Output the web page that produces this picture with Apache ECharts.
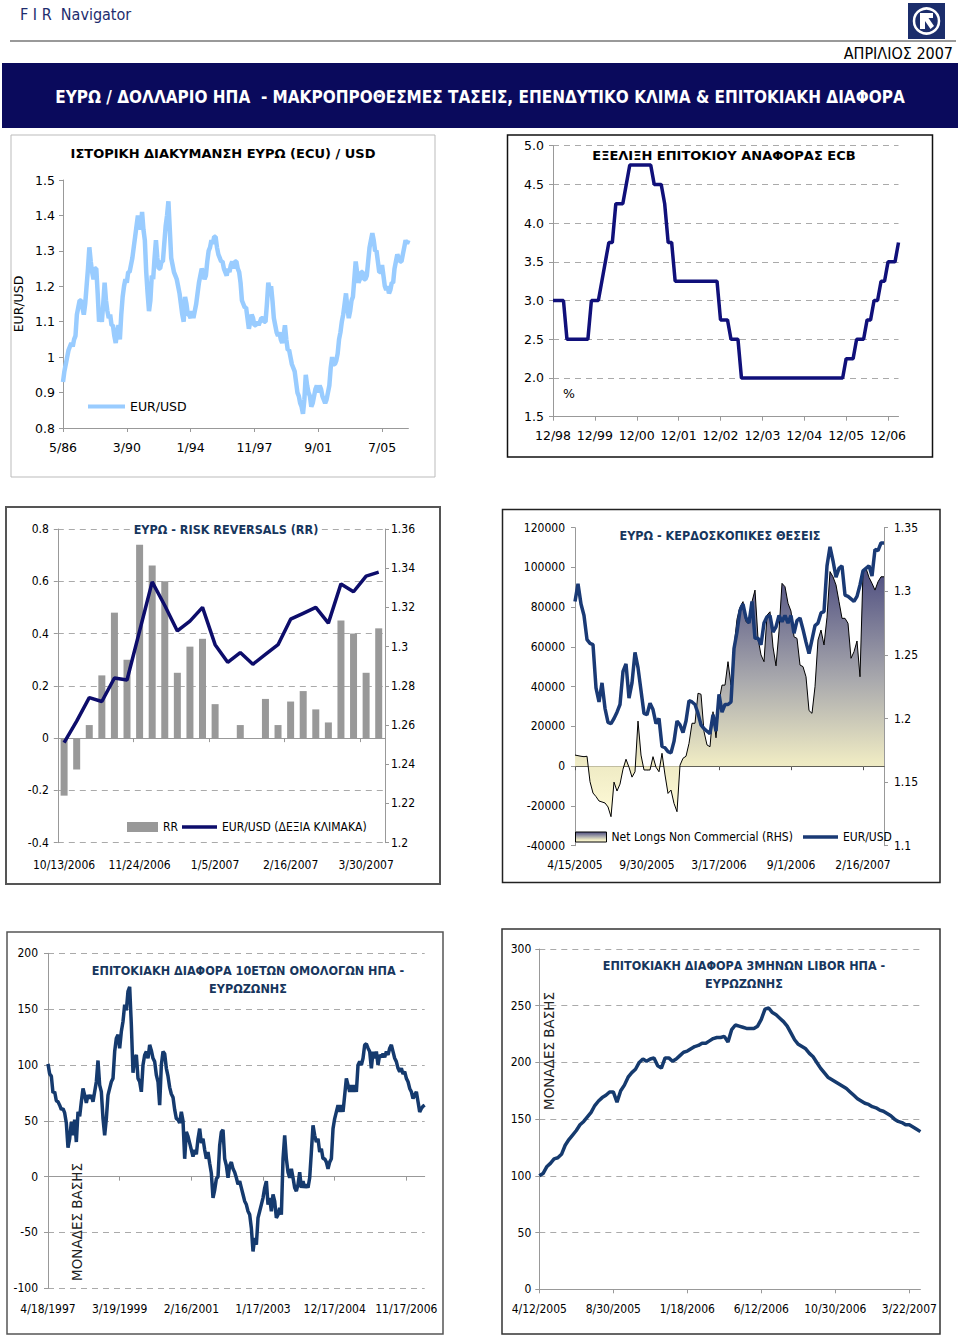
<!DOCTYPE html>
<html><head><meta charset="utf-8">
<script src="https://cdn.jsdelivr.net/npm/echarts@6/dist/echarts.min.js"></script>
<style>html,body{margin:0;padding:0;background:#fff}#c{width:960px;height:1339px}</style>
</head><body><div id="c"></div>
<script>
// ---------- DATA ----------
const histLabels = ['5/86','3/90','1/94','11/97','9/01','7/05'];
const eurUsdHist = [0.93,0.96,0.98,1.00,1.02,1.03,1.04,1.03,1.05,1.06,
1.12,1.14,1.16,1.16,1.14,1.12,1.15,1.20,1.25,1.31,
1.27,1.24,1.22,1.25,1.25,1.18,1.10,1.12,1.10,1.15,
1.21,1.16,1.13,1.11,1.12,1.09,1.09,1.06,1.04,1.07,
1.09,1.05,1.12,1.17,1.20,1.22,1.21,1.24,1.24,1.26,
1.28,1.31,1.34,1.37,1.40,1.38,1.36,1.41,1.36,1.33,
1.24,1.18,1.13,1.16,1.23,1.22,1.28,1.33,1.28,1.25,
1.25,1.27,1.27,1.32,1.37,1.40,1.44,1.36,1.28,1.26,
1.24,1.23,1.22,1.20,1.18,1.15,1.12,1.10,1.17,1.15,
1.12,1.12,1.11,1.13,1.11,1.13,1.15,1.18,1.21,1.23,
1.25,1.24,1.22,1.23,1.27,1.30,1.31,1.33,1.32,1.34,
1.34,1.31,1.29,1.28,1.27,1.27,1.25,1.24,1.23,1.25,
1.24,1.26,1.27,1.25,1.27,1.27,1.25,1.24,1.21,1.16,
1.15,1.14,1.14,1.11,1.08,1.10,1.12,1.11,1.09,1.09,
1.10,1.09,1.10,1.11,1.11,1.10,1.10,1.15,1.21,1.19,
1.20,1.16,1.11,1.09,1.07,1.06,1.07,1.05,1.04,1.06,
1.09,1.05,1.02,1.02,1.00,0.98,0.97,0.96,0.93,0.90,
0.89,0.87,0.86,0.84,0.88,0.95,0.92,0.90,0.89,0.86,
0.87,0.89,0.91,0.92,0.90,0.92,0.91,0.89,0.88,0.87,
0.88,0.90,0.92,0.97,1.00,0.98,0.98,0.99,1.01,1.05,
1.07,1.10,1.12,1.15,1.18,1.14,1.11,1.13,1.16,1.17,
1.22,1.27,1.24,1.21,1.22,1.24,1.24,1.22,1.22,1.23,
1.27,1.31,1.33,1.35,1.33,1.30,1.30,1.27,1.24,1.24,
1.26,1.23,1.20,1.19,1.20,1.18,1.19,1.21,1.21,1.25,
1.27,1.29,1.28,1.27,1.27,1.29,1.31,1.33,1.32,1.33];

const ecbLabels = ['12/98','12/99','12/00','12/01','12/02','12/03','12/04','12/05','12/06'];
const ecbRate = [3,3,3,3,2.5,2.5,2.5,2.5,2.5,2.5,
2.5,3,3,3,3.25,3.5,3.75,3.75,4.25,4.25,
4.25,4.5,4.75,4.75,4.75,4.75,4.75,4.75,4.75,4.5,
4.5,4.5,4.25,3.75,3.75,3.25,3.25,3.25,3.25,3.25,
3.25,3.25,3.25,3.25,3.25,3.25,3.25,3.25,2.75,2.75,
2.75,2.5,2.5,2.5,2,2,2,2,2,2,
2,2,2,2,2,2,2,2,2,2,
2,2,2,2,2,2,2,2,2,2,
2,2,2,2,2.25,2.25,2.25,2.5,2.5,2.5,
2.75,2.75,3,3,3.25,3.25,3.5,3.5,3.5,3.75];

const rrLabels = ['10/13/2006','11/24/2006','1/5/2007','2/16/2007','3/30/2007'];
const rrValues = [-0.22,-0.12,0.05,0.24,0.48,0.30,0.74,0.66,0.60,0.25,0.35,0.38,0.13,0,0.05,0,0.15,0.05,0.14,0.18,0.11,0.06,0.45,0.40,0.25,0.42];
const rrEurUsd = [1.251,1.262,1.274,1.272,1.284,1.283,1.308,1.333,1.321,1.308,1.313,1.320,1.301,1.292,1.297,1.291,1.296,1.301,1.314,1.317,1.320,1.312,1.332,1.328,1.336,1.338];

const cotLabels = ['4/15/2005','9/30/2005','3/17/2006','9/1/2006','2/16/2007'];
const netLongs = [5600,5300,5000,4800,5000,-7800,-13500,-15300,-17500,-18000,
-18500,-20500,-25400,-8000,-12500,-9000,-1500,3500,-500,-5500,
-2800,22700,5600,-1900,-1900,-1900,4800,-500,-2800,6500,
-4400,-13700,-12000,-18700,-22900,500,4000,5000,11500,21600,
21600,36700,36200,17400,10700,9800,27400,14300,32500,40800,
40800,52600,40800,60000,74000,80000,82800,72700,71900,82800,
88600,64300,56000,52600,76000,77700,60000,50500,68000,92000,
90300,82000,78000,65100,64300,50900,50100,45000,28000,26600,
40000,63500,68500,61000,75000,97900,95300,91200,82800,74400,
74400,71900,54300,57600,63000,45000,97900,99600,95000,92000,
88600,92800,95300,95300];
const cotEurUsd = [1.292,1.306,1.290,1.281,1.262,1.259,1.258,1.224,1.213,1.228,
1.208,1.197,1.196,1.200,1.205,1.211,1.237,1.243,1.216,1.228,
1.252,1.240,1.222,1.204,1.203,1.212,1.207,1.196,1.200,1.178,
1.177,1.174,1.173,1.182,1.198,1.195,1.189,1.198,1.214,1.213,
1.211,1.204,1.195,1.192,1.190,1.188,1.203,1.190,1.219,1.205,
1.211,1.211,1.213,1.255,1.268,1.285,1.290,1.279,1.275,1.292,
1.263,1.263,1.258,1.275,1.280,1.281,1.268,1.272,1.281,1.276,
1.281,1.275,1.281,1.267,1.277,1.279,1.270,1.260,1.251,1.262,
1.273,1.275,1.283,1.284,1.320,1.335,1.324,1.311,1.318,1.320,
1.297,1.296,1.294,1.292,1.296,1.305,1.316,1.318,1.320,1.312,
1.333,1.332,1.338,1.338];

const bondLabels = ['4/18/1997','3/19/1999','2/16/2001','1/17/2003','12/17/2004','11/17/2006'];
const bond10y = [101,92,90,75,76,68,67,64,60,61,
57,48,26,34,49,37,51,31,58,54,
67,79,73,66,73,70,73,67,76,85,
104,82,76,52,37,52,73,79,85,88,
112,124,127,115,130,139,154,149,166,170,
136,93,106,109,88,85,76,100,109,112,
106,118,113,106,103,91,85,64,100,112,
110,97,90,80,74,71,60,52,51,48,
58,50,16,40,36,30,24,18,24,20,
34,43,30,34,24,16,22,12,3,-19,
-12,-2,0,28,40,42,16,10,-1,10,
13,7,4,-1,-7,-4,-10,-16,-22,-25,
-31,-34,-46,-67,-55,-61,-37,-31,-25,-19,
-10,-4,-25,-19,-31,-16,-22,-37,-34,-28,
-34,16,37,16,4,-1,7,-1,-10,-13,
-7,4,-10,-4,-10,-7,-10,-1,22,46,
37,31,34,22,25,16,16,13,7,13,
16,43,52,58,64,58,64,58,73,88,
82,76,82,76,82,76,100,103,100,106,
118,119,115,112,97,112,106,112,100,109,
107,110,107,112,109,115,118,112,106,103,
97,94,97,92,94,88,85,79,76,70,
73,76,67,58,61,63,64];

const liborLabels = ['4/12/2005','8/30/2005','1/18/2006','6/12/2006','10/30/2006','3/22/2007'];
const libor3m = [100,102,108,111,115,116,119,127,132,136,
140,145,148,152,156,162,166,169,171,174,
174,165,175,180,187,191,194,200,203,201,
203,204,197,195,204,204,201,203,206,209,
210,212,214,215,217,217,219,221,222,222,
223,218,229,233,232,231,230,230,230,232,
238,247,248,244,242,239,236,232,226,220,
216,214,212,208,205,200,195,191,187,185,
183,181,179,177,174,171,168,166,164,163,
161,160,158,157,155,153,150,148,147,145,
145,143,141,139];

// ---------- HELPERS ----------
const F1 = 'DejaVu Sans';
const F2 = 'DejaVu Sans Condensed';
const GREY = '#999';
const NAVY_T = '#17365d';
function cats(n){ return Array.from({length:n}, (_, i) => i); }
function lab(labels, step){ return (v, i) => (i % step === 0 && labels[i/step] !== undefined) ? labels[i/step] : ''; }
function fmt(d){ return v => String(+(+v).toFixed(d)); }
const dash = {show:true, lineStyle:{color:'#aaa', type:[6,5], width:1}};
const noSplit = {show:false};
const lineAx = {show:true, onZero:false, lineStyle:{color:GREY, width:1}};
const tick = (iv) => ({show:true, length:4, interval:iv, lineStyle:{color:GREY}});

const areaGrad = {type:'linear', x:0, y:0, x2:0, y2:1, colorStops:[
  {offset:0, color:'#4d4d80'},{offset:0.45, color:'#a9a9ad'},{offset:0.78, color:'#eeeac3'},{offset:1, color:'#fffbd8'}]};

// ---------- GRAPHIC (header, frames, titles) ----------
function T(text, x, y, font, fill, extra){
  return Object.assign({type:'text', x, y, z:100, style:Object.assign({text, font, fill:fill||'#000', align:'center', verticalAlign:'middle'}, (extra&&extra.style)||{})}, extra&&extra.rot!=null?{rotation:extra.rot}:{});
}
function R(x,y,w,h,stroke,lw){ return {type:'rect', z:1, shape:{x,y,width:w,height:h}, style:{fill:'transparent', stroke, lineWidth:lw}}; }

const graphic = [
  T('F I R  Navigator', 20, 14, '16px "'+F2+'"', '#1e2d6e', {style:{align:'left'}}),
  {type:'rect', z:1, shape:{x:908, y:3, width:37, height:36}, style:{fill:'#1b2d6b'}},
  {type:'circle', z:2, shape:{cx:926.5, cy:21, r:12.5}, style:{fill:'transparent', stroke:'#fff', lineWidth:2.5}},
  {type:'polygon', z:2, shape:{points:[[920,13],[933,13],[933,18],[928.5,18],[934,26],[930.5,29],[925,21],[925,29],[920,29]]}, style:{fill:'#fff'}},
  {type:'line', z:1, shape:{x1:10, y1:41, x2:956, y2:41}, style:{stroke:'#999', lineWidth:2}},
  T('ΑΠΡΙΛΙΟΣ 2007', 953, 53, '16px "'+F2+'"', '#000', {style:{align:'right'}}),
  {type:'rect', z:1, shape:{x:2, y:63, width:956, height:65}, style:{fill:'#0a0a5c'}},
  T('ΕΥΡΩ / ΔΟΛΛΑΡΙΟ ΗΠΑ  - ΜΑΚΡΟΠΡΟΘΕΣΜΕΣ ΤΑΣΕΙΣ, ΕΠΕΝΔΥΤΙΚΟ ΚΛΙΜΑ & ΕΠΙΤΟΚΙΑΚΗ ΔΙΑΦΟΡΑ', 480, 97, 'bold 17px "'+F2+'"', '#fff'),
  R(11, 135, 424, 342, '#bbb', 1),
  R(507.5, 135, 425, 322, '#111', 1.5),
  R(6, 507, 434, 377, '#555', 2),
  R(502.5, 509.5, 437.5, 373, '#222', 1.5),
  R(7, 932, 436, 402, '#555', 1.5),
  R(502, 929, 438, 405, '#333', 1.5),
  T('ΙΣΤΟΡΙΚΗ ΔΙΑΚΥΜΑΝΣΗ ΕΥΡΩ (ECU) / USD', 223, 153, 'bold 13px "'+F1+'"', '#000'),
  T('ΕΞΕΛΙΞΗ ΕΠΙΤΟΚΙΟΥ ΑΝΑΦΟΡΑΣ ECB', 724, 155, 'bold 13px "'+F1+'"', '#000'),
  T('%', 569, 393, '12.5px "'+F1+'"', '#000'),
  T('ΕΥΡΩ - RISK REVERSALS (RR)', 226, 529, 'bold 12.5px "'+F2+'"', NAVY_T, {style:{backgroundColor:'#fff', padding:[1,3]}}),
  T('ΕΥΡΩ - ΚΕΡΔΟΣΚΟΠΙΚΕΣ ΘΕΣΕΙΣ', 720, 535, 'bold 12.5px "'+F2+'"', NAVY_T),
  T('ΕΠΙΤΟΚΙΑΚΗ ΔΙΑΦΟΡΑ 10ΕΤΩΝ ΟΜΟΛΟΓΩΝ ΗΠΑ -', 248, 970, 'bold 12.5px "'+F2+'"', NAVY_T),
  T('ΕΥΡΩΖΩΝΗΣ', 248, 988, 'bold 12.5px "'+F2+'"', NAVY_T),
  T('ΕΠΙΤΟΚΙΑΚΗ ΔΙΑΦΟΡΑ 3ΜΗΝΩΝ LIBOR ΗΠΑ -', 744, 965, 'bold 12.5px "'+F2+'"', NAVY_T),
  T('ΕΥΡΩΖΩΝΗΣ', 744, 983, 'bold 12.5px "'+F2+'"', NAVY_T),
  T('ΜΟΝΑΔΕΣ ΒΑΣΗΣ', 77, 1222, '13.5px "'+F1+'"', '#222', {rot:Math.PI/2}),
  T('ΜΟΝΑΔΕΣ ΒΑΣΗΣ', 549, 1051, '13.5px "'+F1+'"', '#222', {rot:Math.PI/2})
];

// ---------- OPTION ----------
const L1 = {color:'#000', fontFamily:F1, fontSize:12.5};
const L2 = {color:'#000', fontFamily:F2, fontSize:12};
const lg = (o) => Object.assign({selectedMode:false, padding:0, itemGap:5}, o);

const option = {
  animation:false,
  backgroundColor:'#fff',
  graphic:graphic,
  grid:[
    {left:63, top:180, width:345.4, height:248, outerBoundsMode:'none'},
    {left:553, top:145.7, width:345.5, height:271, outerBoundsMode:'none'},
    {left:57.8, top:529, width:327.2, height:313.7, outerBoundsMode:'none'},
    {left:575, top:527.7, width:309, height:318, outerBoundsMode:'none'},
    {left:48, top:953.3, width:376.7, height:335, outerBoundsMode:'none'},
    {left:539.3, top:949, width:381.1, height:340.3, outerBoundsMode:'none'}
  ],
  legend:[
    lg({data:[{name:'EUR/USD', icon:'rect', itemStyle:{color:'#99ccff'}}], left:88, top:400, itemWidth:37, itemHeight:4, textStyle:L1}),
    lg({data:[{name:'RR', icon:'rect', itemStyle:{color:'#999999'}}], left:127, top:821, itemWidth:31, itemHeight:10, textStyle:L2}),
    lg({data:[{name:'EUR/USD (ΔΕΞΙΑ ΚΛΙΜΑΚΑ)', icon:'rect', itemStyle:{color:'#0d0d6b'}}], left:182, top:821, itemWidth:35, itemHeight:3.5, itemGap:3, textStyle:L2}),
    lg({data:[{name:'Net Longs Non Commercial (RHS)', icon:'rect', itemStyle:{color:areaGrad, borderColor:'#000', borderWidth:1}}], left:575, top:831, itemWidth:31, itemHeight:10, textStyle:L2}),
    lg({data:[{name:'EUR/USD (4)', icon:'rect', itemStyle:{color:'#1a3a75'}}], formatter:() => 'EUR/USD', left:803, top:831, itemWidth:35, itemHeight:3.5, textStyle:L2})
  ],
  xAxis:[
    {type:'category', gridIndex:0, data:cats(eurUsdHist.length), boundaryGap:false, axisLine:lineAx, axisTick:tick(45),
      axisLabel:Object.assign({interval:45, formatter:lab(histLabels,46), margin:13}, L1), splitLine:noSplit},
    {type:'category', gridIndex:1, data:cats(ecbRate.length), boundaryGap:false, axisLine:lineAx, axisTick:tick(11),
      axisLabel:Object.assign({interval:11, formatter:lab(ecbLabels,12), margin:12}, L1), splitLine:noSplit},
    {type:'category', gridIndex:2, data:cats(rrValues.length), boundaryGap:true, position:'bottom', axisLine:{show:false, onZero:false}, axisTick:{show:false},
      axisLabel:Object.assign({interval:5, formatter:lab(rrLabels,6), margin:16}, L2), splitLine:noSplit},
    {type:'category', gridIndex:2, data:cats(rrValues.length), boundaryGap:true, position:'top', axisLine:{show:true, onZero:true, onZeroAxisIndex:2, lineStyle:{color:GREY}},
      axisTick:{show:true, inside:true, length:4, interval:5, lineStyle:{color:GREY}}, axisLabel:{show:false}, splitLine:noSplit},
    {type:'category', gridIndex:3, data:cats(netLongs.length), boundaryGap:false, position:'bottom', axisLine:{show:false, onZero:false}, axisTick:{show:false},
      axisLabel:Object.assign({interval:23, formatter:lab(cotLabels,24), margin:13}, L2), splitLine:noSplit},
    {type:'category', gridIndex:3, data:cats(netLongs.length), boundaryGap:false, position:'top', axisLine:{show:true, onZero:true, onZeroAxisIndex:4, lineStyle:{color:'#333'}},
      axisTick:{show:true, inside:true, length:4, interval:23, lineStyle:{color:'#555'}}, axisLabel:{show:false}, splitLine:noSplit},
    {type:'category', gridIndex:4, data:cats(bond10y.length), boundaryGap:false, position:'bottom', axisLine:{show:false, onZero:false}, axisTick:{show:false},
      axisLabel:Object.assign({interval:42, formatter:lab(bondLabels,43), margin:15}, L2), splitLine:noSplit},
    {type:'category', gridIndex:4, data:cats(bond10y.length), boundaryGap:false, position:'top', axisLine:{show:true, onZero:true, onZeroAxisIndex:6, lineStyle:{color:GREY}},
      axisTick:{show:true, inside:true, length:4, interval:42, lineStyle:{color:GREY}}, axisLabel:{show:false}, splitLine:noSplit},
    {type:'category', gridIndex:5, data:cats(libor3m.length), boundaryGap:false, axisLine:lineAx, axisTick:tick(19),
      axisLabel:Object.assign({interval:19, formatter:lab(liborLabels,20), margin:14}, L2), splitLine:noSplit}
  ],
  yAxis:[
    {type:'value', gridIndex:0, min:0.8, max:1.5, interval:0.1, axisLine:lineAx, axisTick:{show:true, length:4, lineStyle:{color:GREY}},
      axisLabel:Object.assign({formatter:fmt(1), margin:8}, L1), splitLine:noSplit,
      name:'EUR/USD', nameLocation:'middle', nameRotate:90, nameGap:38, nameTextStyle:{color:'#000', fontFamily:F1, fontSize:12.5}},
    {type:'value', gridIndex:1, min:1.5, max:5, interval:0.5, axisLine:lineAx, axisTick:{show:true, length:4, lineStyle:{color:GREY}},
      axisLabel:Object.assign({formatter:v => (+v).toFixed(1), margin:9}, L1), splitLine:dash},
    {type:'value', gridIndex:2, min:-0.4, max:0.8, interval:0.2, axisLine:lineAx, axisTick:{show:true, length:4, lineStyle:{color:GREY}},
      axisLabel:Object.assign({formatter:fmt(1), margin:9}, L2), splitLine:dash},
    {type:'value', gridIndex:2, position:'right', min:1.2, max:1.36, interval:0.02, axisLine:lineAx, axisTick:{show:true, length:4, lineStyle:{color:GREY}},
      axisLabel:Object.assign({formatter:fmt(2), margin:6}, L2), splitLine:noSplit},
    {type:'value', gridIndex:3, min:-40000, max:120000, interval:20000, axisLine:lineAx, axisTick:{show:true, length:4, lineStyle:{color:GREY}},
      axisLabel:Object.assign({formatter:v => String(v), margin:10}, L2), splitLine:noSplit},
    {type:'value', gridIndex:3, position:'right', min:1.1, max:1.35, interval:0.05, axisLine:lineAx, axisTick:{show:true, length:4, lineStyle:{color:GREY}},
      axisLabel:Object.assign({formatter:fmt(2), margin:10}, L2), splitLine:noSplit},
    {type:'value', gridIndex:4, min:-100, max:200, interval:50, axisLine:lineAx, axisTick:{show:true, length:4, lineStyle:{color:GREY}},
      axisLabel:Object.assign({margin:10}, L2), splitLine:dash},
    {type:'value', gridIndex:5, min:0, max:300, interval:50, axisLine:lineAx, axisTick:{show:true, length:4, lineStyle:{color:GREY}},
      axisLabel:Object.assign({margin:8}, L2), splitLine:dash}
  ],
  series:[
    {name:'EUR/USD', type:'line', xAxisIndex:0, yAxisIndex:0, data:eurUsdHist, symbol:'none', lineStyle:{color:'#99ccff', width:4.5}, itemStyle:{color:'#99ccff'}},
    {name:'ECB', type:'line', xAxisIndex:1, yAxisIndex:1, data:ecbRate, symbol:'none', lineStyle:{color:'#10107a', width:3.5}, itemStyle:{color:'#10107a'}},
    {name:'RR', type:'bar', xAxisIndex:2, yAxisIndex:2, data:rrValues, barWidth:7, itemStyle:{color:'#999999'}},
    {name:'EUR/USD (ΔΕΞΙΑ ΚΛΙΜΑΚΑ)', type:'line', xAxisIndex:2, yAxisIndex:3, data:rrEurUsd, symbol:'none', lineStyle:{color:'#0d0d6b', width:3.5}, itemStyle:{color:'#0d0d6b'}},
    {name:'Net Longs Non Commercial (RHS)', type:'line', xAxisIndex:4, yAxisIndex:4, data:netLongs, symbol:'none', lineStyle:{color:'#000', width:1}, itemStyle:{color:'#000'}, areaStyle:{color:areaGrad, opacity:1}},
    {name:'EUR/USD (4)', type:'line', xAxisIndex:4, yAxisIndex:5, data:cotEurUsd, symbol:'none', lineStyle:{color:'#1a3a75', width:3.5}, itemStyle:{color:'#1a3a75'}},
    {name:'10Y', type:'line', xAxisIndex:6, yAxisIndex:6, data:bond10y, symbol:'none', lineStyle:{color:'#153a6e', width:3.5}, itemStyle:{color:'#153a6e'}},
    {name:'LIBOR', type:'line', xAxisIndex:8, yAxisIndex:7, data:libor3m, symbol:'none', lineStyle:{color:'#153a6e', width:3.5}, itemStyle:{color:'#153a6e'}}
  ]
};
const chart = echarts.init(document.getElementById('c'), null, {renderer:'svg', width:960, height:1339});
chart.setOption(option);
</script></body></html>
